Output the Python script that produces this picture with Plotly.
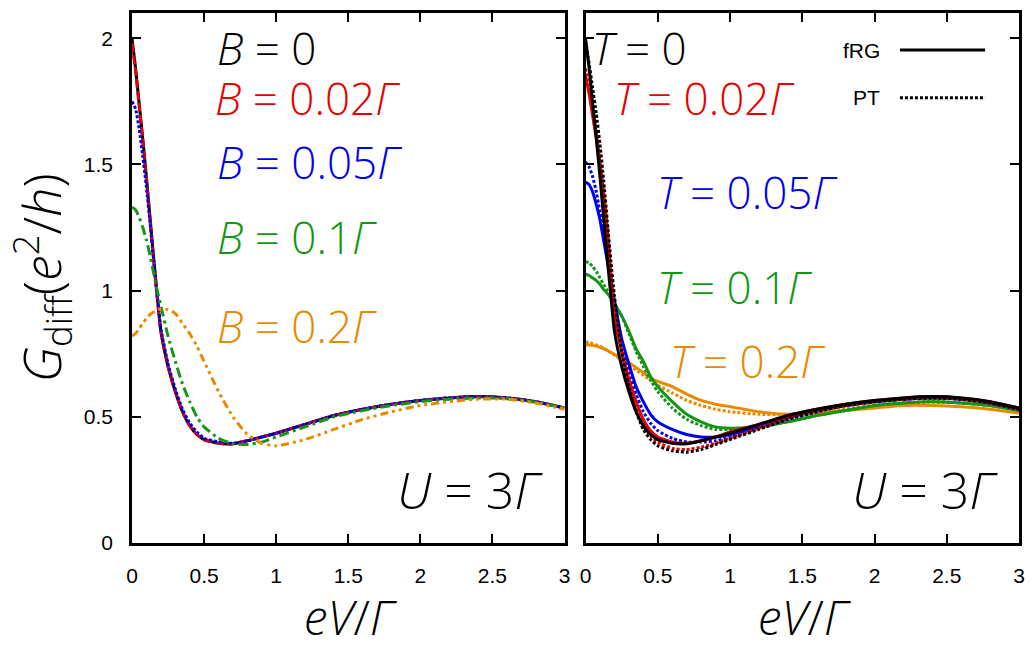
import plotly.graph_objects as go

# Bias voltage grid eV/Γ shared by all curves
ev = [0, 0.025, 0.05, 0.075, 0.1, 0.125, 0.15, 0.175, 0.2, 0.25, 0.3, 0.35,
      0.4, 0.45, 0.5, 0.6, 0.7, 0.8, 0.9, 1.0, 1.2, 1.4, 1.6, 1.8, 2.0,
      2.2, 2.4, 2.6, 2.8, 3.0]

# Left panel: fRG differential conductance at finite magnetic field B (T = 0)
g_b0 = [2.00, 1.88, 1.74, 1.60, 1.45, 1.29, 1.13, 0.98, 0.84, 0.70, 0.60, 0.52,
        0.465, 0.43, 0.41, 0.395, 0.393, 0.405, 0.42, 0.435, 0.47, 0.505, 0.53,
        0.55, 0.565, 0.575, 0.58, 0.575, 0.56, 0.535]
g_b002 = [1.98, 1.87, 1.73, 1.59, 1.44, 1.28, 1.12, 0.97, 0.84, 0.70, 0.60, 0.52,
          0.465, 0.43, 0.41, 0.395, 0.393, 0.405, 0.42, 0.435, 0.47, 0.505, 0.53,
          0.55, 0.565, 0.575, 0.58, 0.575, 0.56, 0.535]
g_b005 = [1.75, 1.72, 1.64, 1.53, 1.41, 1.27, 1.12, 0.98, 0.85, 0.71, 0.61, 0.53,
          0.475, 0.44, 0.415, 0.40, 0.395, 0.405, 0.42, 0.435, 0.47, 0.505, 0.53,
          0.55, 0.565, 0.575, 0.58, 0.575, 0.56, 0.535]
g_b01 = [1.33, 1.32, 1.29, 1.25, 1.20, 1.14, 1.07, 1.00, 0.94, 0.82, 0.72, 0.63,
         0.56, 0.50, 0.46, 0.415, 0.393, 0.39, 0.40, 0.42, 0.46, 0.50, 0.525,
         0.545, 0.56, 0.57, 0.575, 0.572, 0.558, 0.535]
g_b02 = [0.82, 0.83, 0.85, 0.87, 0.89, 0.905, 0.915, 0.922, 0.927, 0.925, 0.91,
         0.87, 0.83, 0.78, 0.72, 0.60, 0.50, 0.43, 0.395, 0.385, 0.41, 0.45, 0.49,
         0.52, 0.545, 0.56, 0.57, 0.57, 0.555, 0.53]

# Right panel: finite temperature T (B = 0), fRG vs perturbation theory
frg_t0 = g_b0
pt_t0 = [1.99, 1.90, 1.80, 1.70, 1.58, 1.44, 1.28, 1.12, 0.98, 0.76, 0.62, 0.52,
         0.45, 0.41, 0.385, 0.365, 0.36, 0.37, 0.39, 0.41, 0.45, 0.49, 0.52,
         0.545, 0.56, 0.57, 0.575, 0.57, 0.555, 0.53]
frg_t002 = [1.85, 1.78, 1.69, 1.60, 1.49, 1.37, 1.24, 1.05, 0.90, 0.76, 0.65,
            0.56, 0.49, 0.445, 0.42, 0.40, 0.395, 0.405, 0.42, 0.44, 0.47, 0.505,
            0.53, 0.55, 0.565, 0.575, 0.58, 0.575, 0.56, 0.535]
pt_t002 = [1.88, 1.80, 1.71, 1.62, 1.51, 1.39, 1.25, 1.07, 0.92, 0.76, 0.63,
           0.54, 0.47, 0.425, 0.40, 0.375, 0.37, 0.38, 0.395, 0.415, 0.455, 0.495,
           0.525, 0.545, 0.56, 0.57, 0.575, 0.57, 0.555, 0.53]
frg_t005 = [1.43, 1.42, 1.39, 1.34, 1.28, 1.20, 1.12, 1.04, 0.96, 0.81, 0.71,
            0.62, 0.56, 0.51, 0.48, 0.45, 0.43, 0.42, 0.42, 0.43, 0.46, 0.495,
            0.525, 0.545, 0.56, 0.57, 0.575, 0.57, 0.555, 0.53]
pt_t005 = [1.51, 1.49, 1.45, 1.39, 1.31, 1.22, 1.13, 1.04, 0.95, 0.80, 0.68,
           0.59, 0.52, 0.475, 0.445, 0.415, 0.40, 0.40, 0.405, 0.42, 0.455, 0.49,
           0.52, 0.545, 0.56, 0.57, 0.575, 0.57, 0.555, 0.53]
frg_t01 = [1.065, 1.06, 1.05, 1.04, 1.025, 1.005, 0.99, 0.97, 0.945, 0.90, 0.84,
           0.77, 0.72, 0.66, 0.62, 0.56, 0.51, 0.48, 0.46, 0.455, 0.46, 0.48,
           0.505, 0.525, 0.545, 0.555, 0.56, 0.555, 0.545, 0.525]
pt_t01 = [1.115, 1.11, 1.095, 1.075, 1.05, 1.025, 1.0, 0.975, 0.95, 0.90, 0.83,
          0.76, 0.70, 0.645, 0.60, 0.535, 0.49, 0.465, 0.45, 0.45, 0.46, 0.48,
          0.505, 0.525, 0.545, 0.555, 0.56, 0.555, 0.545, 0.525]
frg_t02 = [0.785, 0.785, 0.783, 0.78, 0.775, 0.77, 0.763, 0.755, 0.748, 0.73,
           0.715, 0.695, 0.675, 0.655, 0.64, 0.62, 0.59, 0.565, 0.55, 0.54,
           0.52, 0.51, 0.515, 0.525, 0.535, 0.545, 0.545, 0.54, 0.53, 0.515]
pt_t02 = [0.795, 0.795, 0.79, 0.785, 0.78, 0.772, 0.764, 0.755, 0.745, 0.725,
          0.705, 0.685, 0.665, 0.645, 0.625, 0.595, 0.565, 0.545, 0.53, 0.52,
          0.51, 0.51, 0.52, 0.535, 0.545, 0.555, 0.56, 0.555, 0.545, 0.525]

x_ticks = [0, 0.5, 1, 1.5, 2, 2.5, 3]
x_tick_text = ["0", "0.5", "1", "1.5", "2", "2.5", "3"]
y_ticks = [0, 0.5, 1, 1.5, 2]
y_tick_text = ["0", "0.5", "1", "1.5", "2"]

BLACK = "#000000"
RED = "#e60000"
BLUE = "#0000f0"
GREEN = "#139613"
ORANGE = "#e68a00"
LW = 3

fig = go.Figure()


def add(y, color, dash, axis):
    xa, ya = ("x", "y") if axis == 1 else ("x2", "y2")
    fig.add_trace(go.Scatter(x=ev, y=y, mode="lines", xaxis=xa, yaxis=ya,
                             line=dict(color=color, width=LW, dash=dash,
                                       shape="spline", smoothing=0.5),
                             showlegend=False, hoverinfo="skip"))


# left panel
add(g_b0, BLACK, "solid", 1)
add(g_b002, RED, "9px,3px", 1)
add(g_b005, BLUE, "3px,2px", 1)
add(g_b01, GREEN, "10px,4px,3px,4px", 1)
add(g_b02, ORANGE, "8px,4px,3px,4px,3px,4px", 1)

# right panel: solid = fRG, dotted = PT
for frg, pt, c in [(frg_t02, pt_t02, ORANGE), (frg_t01, pt_t01, GREEN),
                   (frg_t005, pt_t005, BLUE), (frg_t002, pt_t002, RED),
                   (frg_t0, pt_t0, BLACK)]:
    add(frg, c, "solid", 2)
    add(pt, c, "3px,2px", 2)

TICKFONT = dict(family="Liberation Sans Narrow, Liberation Sans, Arial", size=21, color="black")
LABELFONT = "Open Sans, Liberation Sans"
TITLEFONT = dict(family=LABELFONT, size=48, color="black", weight=300)

xcommon = dict(range=[0, 3], tickvals=x_ticks, ticktext=x_tick_text,
               ticks="inside", ticklen=9, tickwidth=2, tickcolor="black",
               showline=True, linewidth=2.5, linecolor="black", mirror="ticks",
               showgrid=False, zeroline=False, tickfont=TICKFONT,
               ticklabelstandoff=12)
ycommon = dict(range=[0, 2.1], tickvals=y_ticks, ticktext=y_tick_text,
               ticks="inside", ticklen=9, tickwidth=2, tickcolor="black",
               showline=True, linewidth=2.5, linecolor="black", mirror="ticks",
               showgrid=False, zeroline=False, tickfont=TICKFONT)

xtitle = dict(text="<i>eV</i>/<i>Γ</i>", font=TITLEFONT, standoff=8)

fig.update_layout(
    width=1035, height=649,
    margin=dict(l=132, r=15, t=10, b=106),
    paper_bgcolor="white", plot_bgcolor="white",
    xaxis=dict(domain=[0, 0.4876], anchor="y", title=xtitle, **xcommon),
    xaxis2=dict(domain=[0.5113, 1], anchor="y2", title=xtitle, **xcommon),
    yaxis=dict(domain=[0, 1], anchor="x", ticklabelstandoff=12,
               title=dict(text="<i>G</i><sub>diff</sub>(<i>e</i><sup>2</sup>/<i>h</i>)",
                          font=dict(family=LABELFONT, size=52, color="black",
                                    weight=300), standoff=8),
               **ycommon),
    yaxis2=dict(domain=[0, 1], anchor="x2", showticklabels=False, **ycommon),
)

EQ = " = "


def label(text, x, y, color, axis, anchor="left", size=44):
    fig.add_annotation(text=text, x=x, y=y, xref="x" if axis == 1 else "x2",
                       yref="y" if axis == 1 else "y2", xanchor=anchor,
                       yanchor="middle", showarrow=False,
                       font=dict(family=LABELFONT, size=size, color=color, weight=300))


label("<i>B</i>" + EQ + "0", 0.575, 1.96, BLACK, 1)
label("<i>B</i>" + EQ + "0.02<i>Γ</i>", 0.56, 1.764, RED, 1)
label("<i>B</i>" + EQ + "0.05<i>Γ</i>", 0.575, 1.508, BLUE, 1)
label("<i>B</i>" + EQ + "0.1<i>Γ</i>", 0.575, 1.213, GREEN, 1)
label("<i>B</i>" + EQ + "0.2<i>Γ</i>", 0.575, 0.858, ORANGE, 1)
label("<i>U</i>" + EQ + "3<i>Γ</i>", 2.862, 0.209, BLACK, 1, anchor="right", size=50)

label("<i>T</i>" + EQ + "0", 0.028, 1.96, BLACK, 2)
label("<i>T</i>" + EQ + "0.02<i>Γ</i>", 0.18, 1.764, RED, 2)
label("<i>T</i>" + EQ + "0.05<i>Γ</i>", 0.478, 1.39, BLUE, 2)
label("<i>T</i>" + EQ + "0.1<i>Γ</i>", 0.478, 1.016, GREEN, 2)
label("<i>T</i>" + EQ + "0.2<i>Γ</i>", 0.568, 0.72, ORANGE, 2)
label("<i>U</i>" + EQ + "3<i>Γ</i>", 2.87, 0.209, BLACK, 2, anchor="right", size=50)

# method key in the right panel
for name, y, dash in [("fRG", 1.953, "solid"), ("PT", 1.764, "3px,2px")]:
    fig.add_shape(type="line", xref="x2", yref="y2", x0=2.176, x1=2.765,
                  y0=y, y1=y, line=dict(color="black", width=LW, dash=dash))
    fig.add_annotation(text=name, x=2.05, y=y, xref="x2", yref="y2",
                       xanchor="right", yanchor="middle", showarrow=False,
                       font=dict(family="Liberation Sans, Arial", size=21, color="black"))

fig.write_html("out.html")
